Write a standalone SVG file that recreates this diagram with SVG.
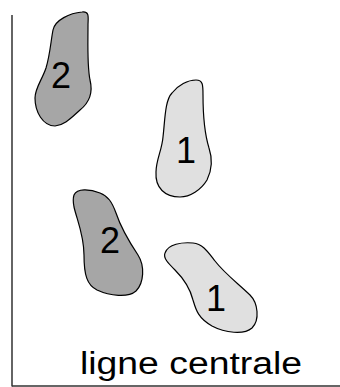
<svg xmlns="http://www.w3.org/2000/svg" width="340" height="387" viewBox="0 0 340 387">
<style>
.fp{stroke:#000;stroke-width:1.2;stroke-linejoin:round}
.d{fill:#a6a6a6}
.l{fill:#e0e0e0}
.num{font-family:"Liberation Sans",Arial,sans-serif;font-size:36px;fill:#000;text-anchor:middle}
.lbl{font-family:"Liberation Sans",Arial,sans-serif;font-size:31px;fill:#000}
</style>
<rect width="340" height="387" fill="#fff"/>
<g id="axes">
<line x1="12" y1="15" x2="12" y2="386.5" stroke="#111" stroke-width="1.3"/>
<line x1="12" y1="386" x2="340" y2="386" stroke="#333" stroke-width="1.3"/>
</g>
<g id="foot2-top">
<path class="fp d" d="M 82,12 C 90,11 88,18 88,25 C 88,45 87,65 90,80 C 93,92 90,102 80,110 C 72,117 65,125 55,126 C 43,126 35,112 35,98 C 35,88 42,80 46,68 C 50,55 51,40 53,30 C 55,20 70,13 82,12 Z"/>
<text class="num" x="61" y="88">2</text>
</g>
<g id="foot1-top">
<path class="fp l" d="M 172,93 C 178,85 188,80 196,80 C 203,80 203,85 203,95 C 203,115 205,135 209,148 C 213,160 212,170 207,180 C 201,190 190,197 180,197 C 165,197 155,188 156,172 C 156,160 162,150 163,137 C 165,120 165,100 172,93 Z"/>
<text class="num" x="186" y="163">1</text>
</g>
<g id="foot2-bottom">
<path class="fp d" d="M 74,195 C 77,188 90,189 100,193 C 108,196 112,202 116,213 C 121,228 130,243 138,255 C 145,266 144,283 136,291 C 128,298 110,296 97,290 C 87,285 84,275 84,255 C 84,235 77,220 74,207 C 73,202 73,198 74,195 Z"/>
<text class="num" x="110" y="253">2</text>
</g>
<g id="foot1-bottom">
<path class="fp l" d="M 165,253 C 168,244 182,242 193,243 C 203,244 208,252 215,261 C 225,274 240,285 250,295 C 258,303 260,320 252,328 C 244,335 225,333 212,326 C 198,318 196,310 193,300 C 190,288 183,278 175,270 C 168,263 163,258 165,253 Z"/>
<text class="num" x="216" y="311">1</text>
</g>
<g id="label">
<text class="lbl" x="80" y="374" textLength="222" lengthAdjust="spacingAndGlyphs">ligne centrale</text>
</g>
<g id="connectors"/>
</svg>
